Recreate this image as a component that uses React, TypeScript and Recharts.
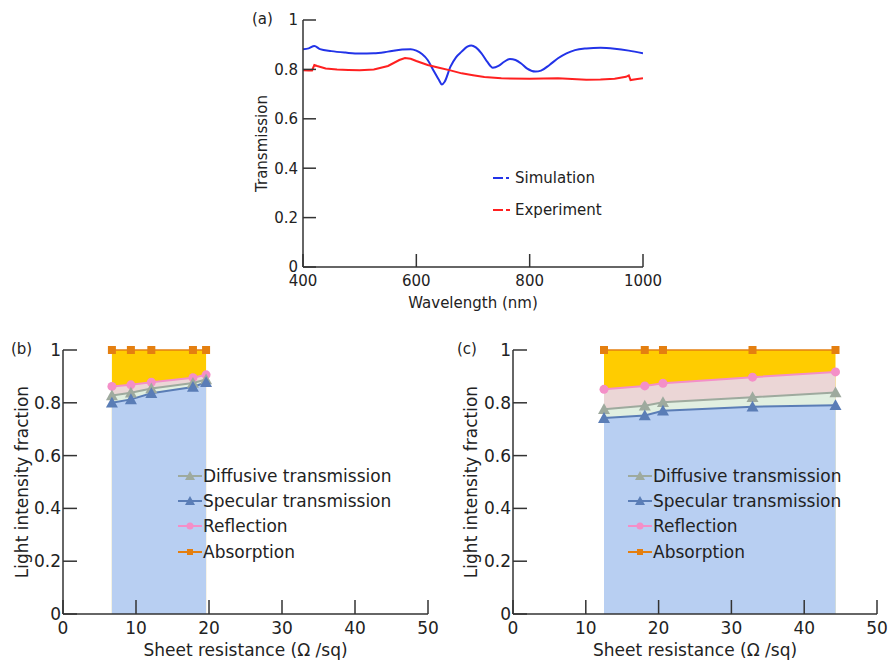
import React from 'react';
import {
  ComposedChart, LineChart, Line, Area, XAxis, YAxis, Legend,
} from 'recharts';

const FONT = '"DejaVu Sans", Verdana, sans-serif';
const INK = '#222';
const AXIS = '#333';

// (a) transmission spectra
const simWl = [400, 410, 420, 430, 450, 475, 500, 525, 550, 575, 590, 600, 610, 620, 630, 640, 645, 650, 660, 670, 680, 690, 697, 705, 715, 725, 735, 745, 755, 765, 775, 785, 795, 810, 820, 835, 850, 865, 880, 900, 925, 950, 975, 1000];
const simT = [0.882, 0.885, 0.895, 0.882, 0.874, 0.868, 0.864, 0.865, 0.872, 0.881, 0.882, 0.876, 0.862, 0.838, 0.797, 0.757, 0.739, 0.75, 0.81, 0.849, 0.872, 0.892, 0.897, 0.889, 0.865, 0.831, 0.807, 0.814, 0.831, 0.842, 0.838, 0.824, 0.804, 0.791, 0.795, 0.818, 0.845, 0.865, 0.878, 0.885, 0.888, 0.884, 0.876, 0.865];
const expWl = [400, 410, 416, 420, 425, 440, 460, 480, 500, 525, 550, 570, 580, 590, 600, 620, 640, 660, 680, 700, 720, 750, 800, 850, 900, 925, 950, 970, 975, 978, 990, 1000];
const expT = [0.797, 0.796, 0.796, 0.818, 0.814, 0.804, 0.8, 0.798, 0.797, 0.8, 0.814, 0.838, 0.846, 0.843, 0.834, 0.818, 0.807, 0.796, 0.784, 0.776, 0.769, 0.764, 0.762, 0.764, 0.758, 0.759, 0.762, 0.77, 0.776, 0.757, 0.761, 0.764];
const wlTicks = [400, 600, 800, 1000];
const fracTicks = [0, 0.2, 0.4, 0.6, 0.8, 1];

// (b) and (c) light intensity fractions vs sheet resistance
const bRes = [6.7, 9.3, 12.1, 17.8, 19.6];
const bSpec = [0.8, 0.813, 0.836, 0.86, 0.878];
const bDiff = [0.828, 0.838, 0.854, 0.875, 0.888];
const bRefl = [0.862, 0.868, 0.878, 0.895, 0.906];
const bAbs = [1, 1, 1, 1, 1];

const cRes = [12.5, 18.1, 20.6, 32.9, 44.3];
const cSpec = [0.742, 0.752, 0.77, 0.785, 0.791];
const cDiff = [0.776, 0.789, 0.802, 0.821, 0.839];
const cRefl = [0.851, 0.864, 0.874, 0.897, 0.917];
const cAbs = [1, 1, 1, 1, 1];

const resTicks = [0, 10, 20, 30, 40, 50];

const simData = simWl.map((w, i) => ({ w, t: simT[i] }));
const expData = expWl.map((w, i) => ({ w, t: expT[i] }));
const toRows = (res: number[], spec: number[], diff: number[], refl: number[], abs: number[]) =>
  res.map((r, i) => ({ r, spec: spec[i], diff: diff[i], refl: refl[i], abs: abs[i] }));
const bData = toRows(bRes, bSpec, bDiff, bRefl, bAbs);
const cData = toRows(cRes, cSpec, cDiff, cRefl, cAbs);

const COLORS = {
  gold: '#ffcc00',
  pinkFill: '#ebd6d6',
  greenFill: '#e1efe1',
  blueFill: '#b8cff2',
  abs: '#e47f10',
  refl: '#f48fc8',
  diff: '#9eaa9e',
  spec: '#5a7db6',
};

const triangle = (cx: number, cy: number, s: number, color: string, key?: any) => (
  <path key={key} d={`M${cx},${cy - s} L${cx + s},${cy + s * 0.8} L${cx - s},${cy + s * 0.8} Z`} fill={color} />
);
const square = (cx: number, cy: number, s: number, color: string, key?: any) => (
  <rect key={key} x={cx - s} y={cy - s} width={s * 2} height={s * 2} fill={color} />
);
const circle = (cx: number, cy: number, s: number, color: string, key?: any) => (
  <circle key={key} cx={cx} cy={cy} r={s} fill={color} />
);

const makeDot = (shape: typeof triangle, size: number, color: string) => (p: any) => {
  if (p.cx == null || p.cy == null) return <g key={p.index} />;
  return shape(p.cx, p.cy, size, color, p.index);
};

const resSeries = [
  { name: 'Diffusive transmission', color: COLORS.diff, shape: triangle, size: 6 },
  { name: 'Specular transmission', color: COLORS.spec, shape: triangle, size: 6 },
  { name: 'Reflection', color: COLORS.refl, shape: circle, size: 4.5 },
  { name: 'Absorption', color: COLORS.abs, shape: square, size: 4 },
];

function ResLegend() {
  return (
    <div style={{ fontFamily: FONT, fontSize: 17, color: INK }}>
      {resSeries.map((s) => (
        <div key={s.name} style={{ display: 'flex', alignItems: 'center', height: 25.3, whiteSpace: 'nowrap' }}>
          <svg width={24} height={16} style={{ marginRight: 1 }}>
            <line x1={0} y1={8} x2={24} y2={8} stroke={s.color} strokeWidth={2} />
            {s.shape(12, 8, s.size - 1, s.color)}
          </svg>
          <span>{s.name}</span>
        </div>
      ))}
    </div>
  );
}

const specLegend = [
  { name: 'Simulation', color: '#2233e8', dash: '10 3 3 20' },
  { name: 'Experiment', color: '#ff2020', dash: '10 3 4 20' },
];

function SpecLegend() {
  return (
    <div style={{ fontFamily: FONT, fontSize: 15, color: INK }}>
      {specLegend.map((s) => (
        <div key={s.name} style={{ display: 'flex', alignItems: 'center', height: 32 }}>
          <svg width={20} height={10} style={{ marginRight: 2 }}>
            <line x1={0} y1={5} x2={20} y2={5} stroke={s.color} strokeWidth={2} strokeDasharray={s.dash} />
          </svg>
          <span>{s.name}</span>
        </div>
      ))}
    </div>
  );
}

const tickStyle = (size: number) => ({ fill: INK, fontSize: size, fontFamily: FONT });
const labelStyle = (size: number) => ({ fill: INK, fontSize: size, fontFamily: FONT, textAnchor: 'middle' as const });
const blank = () => '';

function SpectrumPanel() {
  return (
    <LineChart
      width={440}
      height={314}
      margin={{ top: 20, right: 37, left: 17, bottom: 1 }}
      style={{ position: 'absolute', left: 240, top: 0 }}
    >
      <XAxis
        dataKey="w" type="number" domain={[400, 1000]} ticks={wlTicks} allowDataOverflow
        height={46} tickSize={-13} tickMargin={21} stroke={AXIS} strokeWidth={1.5}
        tick={tickStyle(15)}
        label={{ value: 'Wavelength (nm)', position: 'insideBottom', offset: 5, style: labelStyle(15) }}
      />
      <XAxis
        xAxisId="top" orientation="top" dataKey="w" type="number" domain={[400, 1000]} ticks={wlTicks}
        allowDataOverflow height={0} tickSize={-13} tickFormatter={blank} stroke={AXIS} strokeWidth={1.5}
      />
      <YAxis
        type="number" domain={[0, 1]} ticks={fracTicks} width={46} tickSize={-13} tickMargin={18}
        stroke={AXIS} strokeWidth={1.5} tick={tickStyle(15)}
        label={{ value: 'Transmission', angle: -90, position: 'insideLeft', offset: 5, style: labelStyle(15) }}
      />
      <YAxis
        yAxisId="right" orientation="right" type="number" domain={[0, 1]} ticks={fracTicks} width={0}
        tickSize={-13} tickFormatter={blank} stroke={AXIS} strokeWidth={1.5}
      />
      <Line data={simData} dataKey="t" name="Simulation" type="monotone" stroke="#2233e8" strokeWidth={2} dot={false} isAnimationActive={false} />
      <Line data={expData} dataKey="t" name="Experiment" type="linear" stroke="#ff2020" strokeWidth={2} dot={false} isAnimationActive={false} />
      <Legend
        layout="vertical" align="center" verticalAlign="middle" content={<SpecLegend />}
        wrapperStyle={{ left: 253, top: 162, width: 'auto' }}
      />
    </LineChart>
  );
}

type ResProps = {
  data: typeof bData;
  left: number;
  width: number;
  marginLeft: number;
  axisWidth: number;
  marginRight: number;
  legendLeft: number;
};

function ResistancePanel({ data, left, width, marginLeft, axisWidth, marginRight, legendLeft }: ResProps) {
  return (
    <ComposedChart
      width={width}
      height={331}
      data={data}
      margin={{ top: 20, right: marginRight, left: marginLeft, bottom: 0 }}
      style={{ position: 'absolute', left, top: 330 }}
    >
      <XAxis
        dataKey="r" type="number" domain={[0, 50]} ticks={resTicks} allowDataOverflow
        height={47} tickSize={-14} tickMargin={22} stroke={AXIS} strokeWidth={1.5}
        tick={tickStyle(17)}
        label={{ value: 'Sheet resistance (Ω /sq)', position: 'insideBottom', offset: 5, style: labelStyle(17) }}
      />
      <XAxis
        xAxisId="top" orientation="top" dataKey="r" type="number" domain={[0, 50]} ticks={resTicks}
        allowDataOverflow height={0} tickSize={-14} tickFormatter={blank} stroke={AXIS} strokeWidth={1.5}
      />
      <YAxis
        type="number" domain={[0, 1]} ticks={fracTicks} width={axisWidth} tickSize={-14} tickMargin={16}
        stroke={AXIS} strokeWidth={1.5} tick={tickStyle(17)}
        label={{ value: 'Light intensity fraction', angle: -90, position: 'insideLeft', offset: 5, style: labelStyle(17) }}
      />
      <YAxis
        yAxisId="right" orientation="right" type="number" domain={[0, 1]} ticks={fracTicks} width={0}
        tickSize={-14} tickFormatter={blank} stroke={AXIS} strokeWidth={1.5}
      />
      <Area dataKey="abs" type="linear" fill={COLORS.gold} fillOpacity={1} stroke="none" isAnimationActive={false} />
      <Area dataKey="refl" type="linear" fill={COLORS.pinkFill} fillOpacity={1} stroke="none" isAnimationActive={false} />
      <Area dataKey="diff" type="linear" fill={COLORS.greenFill} fillOpacity={1} stroke="none" isAnimationActive={false} />
      <Area dataKey="spec" type="linear" fill={COLORS.blueFill} fillOpacity={1} stroke="none" isAnimationActive={false} />
      <Line dataKey="abs" type="linear" stroke={COLORS.abs} strokeWidth={1.5} dot={makeDot(square, 4, COLORS.abs)} isAnimationActive={false} />
      <Line dataKey="refl" type="linear" stroke={COLORS.refl} strokeWidth={2} dot={makeDot(circle, 4.5, COLORS.refl)} isAnimationActive={false} />
      <Line dataKey="diff" type="linear" stroke={COLORS.diff} strokeWidth={2} dot={makeDot(triangle, 6, COLORS.diff)} isAnimationActive={false} />
      <Line dataKey="spec" type="linear" stroke={COLORS.spec} strokeWidth={2} dot={makeDot(triangle, 6, COLORS.spec)} isAnimationActive={false} />
      <Legend
        layout="vertical" align="center" verticalAlign="middle" content={<ResLegend />}
        wrapperStyle={{ left: legendLeft, top: 133, width: 'auto' }}
      />
    </ComposedChart>
  );
}

const panelTag = (text: string, left: number, top: number) => (
  <div style={{ position: 'absolute', left, top, fontFamily: FONT, fontSize: 15, color: INK }}>{text}</div>
);

export default function App() {
  return (
    <div style={{ position: 'absolute', left: 0, top: 0, width: 888, height: 661, background: '#fff', overflow: 'hidden' }}>
      <SpectrumPanel />
      <ResistancePanel data={bData} left={0} width={440} marginLeft={17} axisWidth={46} marginRight={12} legendLeft={178} />
      <ResistancePanel data={cData} left={440} width={448} marginLeft={26} axisWidth={47} marginRight={11} legendLeft={188} />
      {panelTag('(a)', 252, 10)}
      {panelTag('(b)', 11, 340)}
      {panelTag('(c)', 457, 340)}
    </div>
  );
}
